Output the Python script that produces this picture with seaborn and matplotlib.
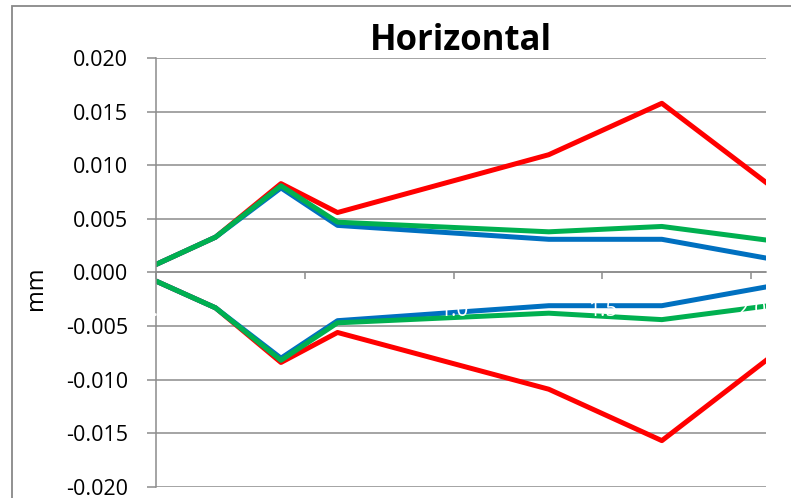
import matplotlib
matplotlib.use("Agg")
import matplotlib.pyplot as plt
import seaborn as sns
import pandas as pd
from matplotlib.patches import Rectangle

# Positions along the span and the tolerance envelopes (mm) for three cases
x_pos = [0.00, 0.20, 0.42, 0.61, 1.32, 1.70, 2.06]

case1_upper = [0.00075, 0.0033, 0.0083, 0.0056, 0.0110, 0.0158, 0.0082]
case1_lower = [-0.0008, -0.0033, -0.0084, -0.0056, -0.0109, -0.0157, -0.0080]

case2_upper = [0.00075, 0.0033, 0.0079, 0.0044, 0.0031, 0.0031, 0.0013]
case2_lower = [-0.0008, -0.0033, -0.0080, -0.0045, -0.0031, -0.0031, -0.0013]

case3_upper = [0.00075, 0.0033, 0.0081, 0.0047, 0.0038, 0.0043, 0.0030]
case3_lower = [-0.0008, -0.0033, -0.0082, -0.0047, -0.0038, -0.0044, -0.0031]

series_names = ["Case 1", "Case 2", "Case 3"]
series_colors = ["#FF0000", "#0070C0", "#00B050"]

x_ticks = [0.0, 0.5, 1.0, 1.5, 2.0]
x_tick_labels = ["0.0", "0.5", "1.0", "1.5", "2.0"]
y_ticks = [-0.020, -0.015, -0.010, -0.005, 0.000, 0.005, 0.010, 0.015, 0.020]
y_tick_labels = ["-0.020", "-0.015", "-0.010", "-0.005", "0.000",
                 "0.005", "0.010", "0.015", "0.020"]

rows = []
for name, up, lo in zip(series_names,
                        [case1_upper, case2_upper, case3_upper],
                        [case1_lower, case2_lower, case3_lower]):
    for xv, v in zip(x_pos, up):
        rows.append({"x": xv, "mm": v, "series": name, "bound": "upper"})
    for xv, v in zip(x_pos, lo):
        rows.append({"x": xv, "mm": v, "series": name, "bound": "lower"})
df = pd.DataFrame(rows)

sns.set_theme(style="white")
plt.rcParams["font.family"] = ["Open Sans", "DejaVu Sans"]

W, H = 791, 498
fig = plt.figure(figsize=(W / 100, H / 100), dpi=100)
ax = fig.add_axes([156 / W, 1 - 487 / H, (766 - 156) / W, (487 - 58) / H])

sns.lineplot(data=df, x="x", y="mm", hue="series", units="bound",
             hue_order=series_names, palette=series_colors,
             estimator=None, sort=False, legend=False, ax=ax,
             linewidth=3.6, solid_joinstyle="round", solid_capstyle="round")

grey = "#8c8c8c"

# spines first: moving a spine rebuilds the axis ticks
for side in ["top", "right"]:
    ax.spines[side].set_visible(False)
ax.spines["bottom"].set_position(("data", 0))
for side in ["left", "bottom"]:
    ax.spines[side].set_color(grey)
    ax.spines[side].set_linewidth(1.1)

ax.set_xlim(0, 2.05)
ax.set_ylim(-0.02003, 0.02003)

ax.set_yticks(y_ticks)
ax.set_yticklabels(y_tick_labels)
ax.set_xticks(x_ticks)
ax.set_xticklabels(x_tick_labels)

ax.tick_params(axis="y", direction="out", length=6.5, width=1.1, color=grey,
               pad=13.5, left=True, labelsize=15.5, labelcolor="black")
ax.tick_params(axis="x", direction="out", length=5, width=1.1, color=grey,
               pad=15, bottom=True, labelsize=15, labelcolor="white")

ax.yaxis.grid(True, color=grey, linewidth=1.1)
ax.xaxis.grid(False)
ax.set_axisbelow(True)
ax.xaxis.set_zorder(3)

ax.set_xlabel("")
ax.set_ylabel("mm", fontsize=17, color="black")
ax.yaxis.set_label_coords((48.5 - 156) / (766 - 156), (487 - 288) / (487 - 58))

fig.text(461 / W, 1 - 50 / H, "Horizontal", ha="center", va="baseline",
         fontsize=25, fontweight="bold", color="black")

# chart frame
fig.add_artist(Rectangle((12 / W, -0.5), 2.0, 1.5 - 6 / H,
                         transform=fig.transFigure, fill=False,
                         edgecolor="#888888", linewidth=1.3))

fig.savefig("out.png", dpi=100, facecolor="white")
